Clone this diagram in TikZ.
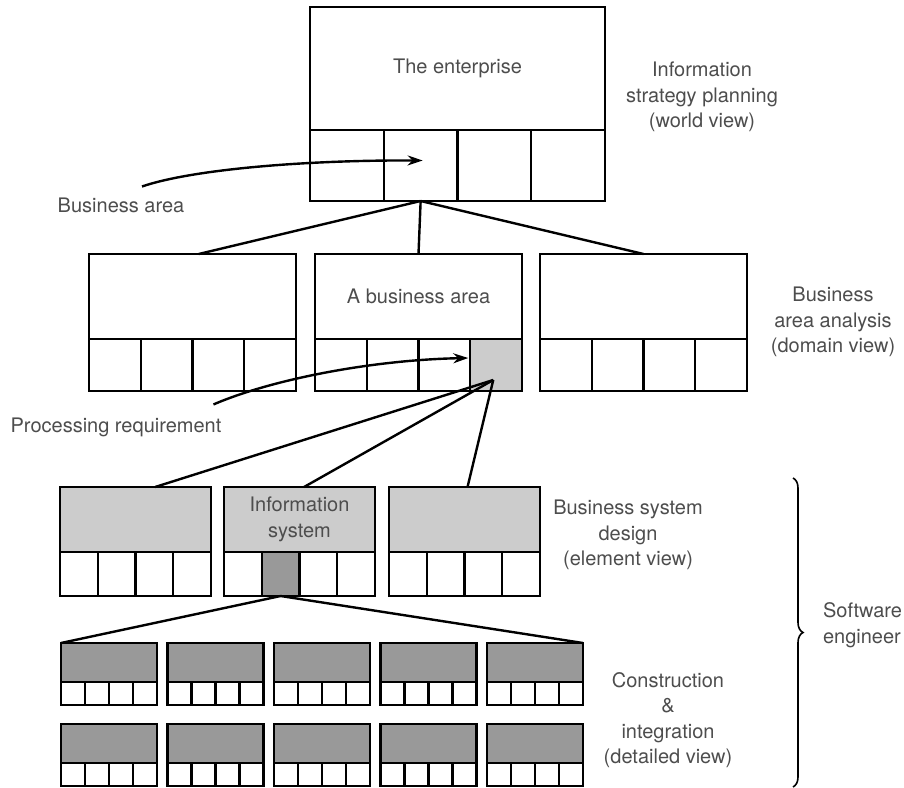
\documentclass[tikz,border=0pt]{standalone}
\usepackage{fontspec}
\setmainfont{TeX Gyre Heros}
\usetikzlibrary{arrows.meta,calc,decorations.pathreplacing}
\definecolor{ink}{HTML}{4D4D4D}
\definecolor{lite}{HTML}{CCCCCC}
\definecolor{dark}{HTML}{999999}
\tikzset{
  part/.style={draw=black,line width=1.2pt,inner sep=0pt,outer sep=0pt,anchor=north west},
  entbox/.style={part,minimum width=147.5pt,minimum height=61.5pt},
  entcell/.style={part,minimum width=36.875pt,minimum height=35.5pt},
  babox/.style={part,minimum width=103.5pt,minimum height=42.5pt},
  bacell/.style={part,minimum width=25.875pt,minimum height=26pt},
  isbox/.style={part,fill=lite,minimum width=75.5pt,minimum height=32.5pt},
  iscell/.style={part,minimum width=18.875pt,minimum height=22pt},
  csbox/.style={part,fill=dark,minimum width=48pt,minimum height=19.5pt},
  cscell/.style={part,minimum width=12pt,minimum height=11.5pt},
  lbl/.style={font=\fontsize{10}{12.75}\selectfont,text=ink,align=center},
  link/.style={line width=1.2pt},
  pointer/.style={line width=1.2pt,-{Stealth[length=7.5pt,width=5pt]}},
}
\begin{document}
\begin{tikzpicture}[x=0.5pt,y=-0.5pt]
  \useasboundingbox (0,0) rectangle (904,787);
  % ---------- the enterprise ----------
  \node[entbox,lbl] (ent) at (310,7) {The enterprise};
  \foreach \k in {1,...,4} \node[entcell] (ent-\k) at ({310+73.75*(\k-1)},130) {};
  \node[lbl] (isp) at (702,97) {Information\\strategy planning\\(world view)};
  % ---------- business areas ----------
  \foreach \n/\x in {1/89,2/315,3/540} {
    \node[babox] (ba\n) at (\x,254) {};
    \foreach \k in {1,...,4} \node[bacell] (ba\n-\k) at ({\x+51.75*(\k-1)},339) {};
  }
  \node[bacell,fill=lite] (ba2-4) at ({315+51.75*3},339) {};
  \node[lbl] (ba2-txt) at (ba2) {A business area};
  \node[lbl] (baa) at (833,322) {Business\\area analysis\\(domain view)};
  % ---------- information systems ----------
  \foreach \n/\x in {1/60,2/224,3/389} {
    \node[isbox] (is\n) at (\x,487) {};
    \foreach \k in {1,...,4} \node[iscell] (is\n-\k) at ({\x+37.75*(\k-1)},552) {};
  }
  \node[iscell,fill=dark] (is2-2) at ({224+37.75},552) {};
  \node[lbl] (is2-txt) at (is2) {Information\\system};
  \node[lbl] (bsd) at (628,535) {Business system\\design\\(element view)};
  % ---------- construction units ----------
  \foreach \r/\y in {1/643,2/724} \foreach \n in {1,...,5} {
    \node[csbox] (cs\r-\n) at ({61+106.5*(\n-1)},\y) {};
    \foreach \k in {1,...,4} \node[cscell] (cs\r-\n-\k) at ({61+106.5*(\n-1)+24*(\k-1)},{\y+39}) {};
  }
  \node[lbl] (ci) at (668,720) {Construction\\\&\\integration\\(detailed view)};
  % ---------- links ----------
  \draw[link] (ent-2.south) -- ($(ba1.north west)!0.53!(ba1.north east)$);
  \draw[link] (ent-2.south) -- (ba2.north);
  \draw[link] (ent-2.south) -- (ba3.north);
  \coordinate (pr) at ($(ba2-4.south west)+(23,-11)$);
  \draw[link] (pr) -- ($(is1.north west)!0.63!(is1.north east)$);
  \draw[link] (pr) -- ($(is2.north west)!0.53!(is2.north east)$);
  \draw[link] (pr) -- ($(is3.north west)!0.52!(is3.north east)$);
  \draw[link] (cs1-1.north west) -- (is2-2.south) -- (cs1-5.north east);
  % ---------- pointers ----------
  \node[lbl] (bal) at (121,205) {Business area};
  \draw[pointer] ($(bal.north)+(21,-4)$) .. controls (190,170) and (300,160) .. ($(ent-2.center)+(2,-5)$);
  \node[lbl] (prl) at (116,427) {Processing requirement};
  \draw[pointer] ($(prl.north east)+(-15,-6)$) .. controls (270,380) and (370,360) .. ($(ba2-4.west)+(-2,-7)$);
  % ---------- software engineer ----------
  \coordinate (br-top) at (793,478);
  \coordinate (br-bot) at (793,787);
  \draw[decorate,decoration={brace,amplitude=5pt},line width=0.8pt] (br-top) -- (br-bot);
  \node[lbl,anchor=west,align=left] (swe) at (816,625) {Software\\engineer};
\end{tikzpicture}
\end{document}
